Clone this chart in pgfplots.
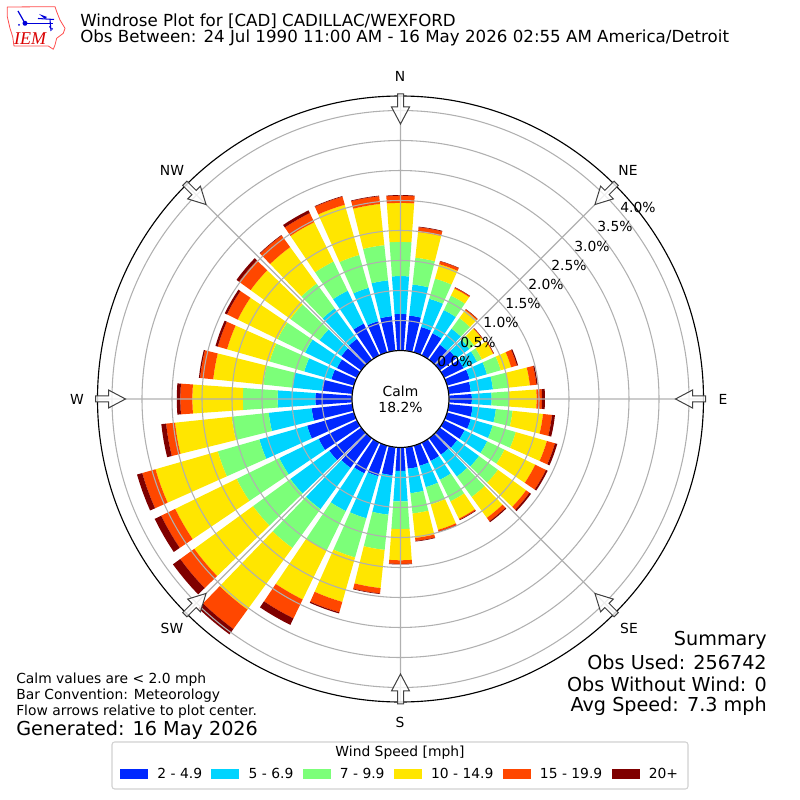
\documentclass[border=0pt]{standalone}
\usepackage{pgfplots}
\usepackage{pgfplotstable}
\usepackage{fontspec}
\usepgfplotslibrary{polar}
\pgfplotsset{compat=1.18}
\setmainfont{DejaVu Sans}
\newfontfamily\logofont{Liberation Serif}
\definecolor{c1}{RGB}{0,40,255}
\definecolor{c2}{RGB}{0,212,255}
\definecolor{c3}{RGB}{124,255,121}
\definecolor{c4}{RGB}{255,230,0}
\definecolor{c5}{RGB}{255,71,0}
\definecolor{c6}{RGB}{127,0,0}
\definecolor{gridc}{RGB}{176,176,176}
% cumulative frequency (%) at the outer edge of each speed band, per direction
\pgfplotstableread{
dir b1 b2 b3 b4 b5 b6
0 .61 1.24 1.81 2.46 2.58 2.59
10 .59 1.11 1.56 1.99 2.07 2.08
20 .44 .93 1.28 1.53 1.58 1.585
30 .41 .84 1.11 1.24 1.26 1.265
40 .31 .64 .86 1.02 1.04 1.045
50 .34 .61 .71 .88 .89 .895
60 .36 .61 .70 .91 .92 .925
70 .39 .69 .93 1.11 1.21 1.23
80 .37 .74 1.0 1.36 1.47 1.49
90 .38 .71 1.0 1.46 1.55 1.60
100 .40 .79 1.07 1.58 1.73 1.78
110 .41 .79 1.19 1.73 1.87 1.91
120 .38 .80 1.12 1.69 1.89 1.92
130 .36 .81 1.20 1.78 1.85 1.88
140 .34 .79 1.21 1.64 1.71 1.73
150 .34 .69 1.09 1.41 1.43 1.44
160 .35 .72 1.02 1.46 1.49 1.50
170 .36 .77 1.11 1.52 1.57 1.58
180 .39 .90 1.36 1.88 1.94 1.95
190 .47 1.13 1.72 2.36 2.45 2.46
200 .53 1.26 1.94 2.71 2.89 2.91
210 .57 1.27 2.0 2.91 3.26 3.38
220 .61 1.46 2.26 3.53 3.93 4.04
230 .66 1.46 2.23 3.44 3.73 3.88
240 .71 1.44 2.23 3.37 3.63 3.75
250 .81 1.64 2.36 3.44 3.67 3.76
260 .68 1.40 2.02 2.97 3.12 3.20
270 .61 1.24 1.82 2.66 2.86 2.92
280 .51 1.00 1.49 2.33 2.55 2.57
290 .39 .86 1.46 2.2 2.36 2.40
300 .37 .96 1.47 2.21 2.41 2.45
310 .41 .86 1.46 2.28 2.52 2.57
320 .43 1.06 1.57 2.32 2.56 2.57
330 .59 1.20 1.74 2.47 2.64 2.69
340 .54 1.12 1.69 2.56 2.70 2.71
350 .58 1.18 1.77 2.46 2.59 2.60
}\windtable
\def\rorigin{0.8083}
\newcommand\wedgeplot[4]{%
  \pgfmathsetmacro\tha{#1-4}\pgfmathsetmacro\thb{#1-2}%
  \pgfmathsetmacro\thc{#1+2}\pgfmathsetmacro\thd{#1+4}%
  \pgfmathsetmacro\ra{#2+\rorigin}\pgfmathsetmacro\rb{#3+\rorigin}%
  \edef\tmp{\noexpand\addplot[fill=#4,draw=none,forget plot] coordinates {(\tha,\ra)(\thb,\ra)(#1,\ra)(\thc,\ra)(\thd,\ra)(\thd,\rb)(\thc,\rb)(#1,\rb)(\thb,\rb)(\tha,\rb)} -- cycle;}%
  \tmp}
\newcommand\flowarrow[1]{% compass bearing
  \begin{scope}[shift={(400.5,399)},rotate=#1]
  \draw[draw=black!75,fill=white,fill opacity=.8,line width=.75pt,line join=miter]
    (0,-305) -- (3,-305) -- (3,-292) -- (9,-292) -- (0,-275) -- (-9,-292) -- (-3,-292) -- (-3,-305) -- cycle;
  \end{scope}}
\begin{document}
\begin{tikzpicture}
\useasboundingbox (0,0) rectangle (600pt,600pt);
\begin{scope}[x=0.75pt,y=-0.75pt,shift={(0,600pt)}]
\draw[draw=black!18,fill=white,rounded corners=2pt,line width=.8pt] (112,742) rectangle (688,789);
\end{scope}
\begin{polaraxis}[
  at={(300.375pt,300.75pt)},anchor=center,
  scale only axis,width=454.5pt,height=454.5pt,
  xmin=0,xmax=360,ymin=0,ymax=5.05,
  xtick={0,45,...,315},xticklabels={},
  ytick={0.8083,1.3083,1.8083,2.3083,2.8083,3.3083,3.8083,4.3083,4.8083},yticklabels={},
  grid=both,grid style={gridc,line width=.8pt},
  major tick length=0pt,
  separate axis lines,
  x axis line style={black,line width=.85pt},
  y axis line style={draw=none},
  axis on top,
  legend columns=6,
  legend cell align=left,
  legend style={draw=none,fill=none,at={(axis description cs:0.5,-0.119)},anchor=center,
    font=\fontsize{10.4pt}{12pt}\selectfont,
    /tikz/every even column/.append style={column sep=5pt},
    /tikz/every odd column/.append style={column sep=4.9pt}},
  legend image code/.code={\fill[#1,draw=none] (0pt,-3.6pt) rectangle (21pt,3.6pt);},
]
\addlegendimage{fill=c1,draw=none}\addlegendentry{2 - 4.9}
\addlegendimage{fill=c2,draw=none}\addlegendentry{5 - 6.9}
\addlegendimage{fill=c3,draw=none}\addlegendentry{7 - 9.9}
\addlegendimage{fill=c4,draw=none}\addlegendentry{10 - 14.9}
\addlegendimage{fill=c5,draw=none}\addlegendentry{15 - 19.9}
\addlegendimage{fill=c6,draw=none}\addlegendentry{20+}
\foreach \row in {0,...,35}{%
  \pgfplotstablegetelem{\row}{dir}\of\windtable\pgfmathsetmacro\th{90-\pgfplotsretval}%
  \pgfplotstablegetelem{\row}{b1}\of\windtable\let\vi\pgfplotsretval
  \pgfplotstablegetelem{\row}{b2}\of\windtable\let\vii\pgfplotsretval
  \pgfplotstablegetelem{\row}{b3}\of\windtable\let\viii\pgfplotsretval
  \pgfplotstablegetelem{\row}{b4}\of\windtable\let\viv\pgfplotsretval
  \pgfplotstablegetelem{\row}{b5}\of\windtable\let\vv\pgfplotsretval
  \pgfplotstablegetelem{\row}{b6}\of\windtable\let\vvi\pgfplotsretval
  \wedgeplot{\th}{0}{\vi}{c1}%
  \wedgeplot{\th}{\vi}{\vii}{c2}%
  \wedgeplot{\th}{\vii}{\viii}{c3}%
  \wedgeplot{\th}{\viii}{\viv}{c4}%
  \wedgeplot{\th}{\viv}{\vv}{c5}%
  \wedgeplot{\th}{\vv}{\vvi}{c6}%
}
\end{polaraxis}
\begin{scope}[x=0.75pt,y=-0.75pt,shift={(0,600pt)}]
\fontsize{10.4pt}{12.5pt}\selectfont
% centre
\draw[fill=white,draw=black,line width=.85pt] (400.5,399) circle[radius=48.5];
\node[align=center,font=\fontsize{10.4pt}{12pt}\selectfont,inner sep=0pt] at (400.5,399) {Calm\\18.2\%};
% arrows
\foreach \b in {0,45,...,315}{\flowarrow{\b}}
% compass
\node at (400,76) {N};\node at (628,170) {NE};\node at (723,399) {E};\node at (629,628) {SE};
\node at (400,722) {S};\node at (172,628) {SW};\node at (77,399) {W};\node at (172,170) {NW};
% radial labels
\node at (455,361) {0.0\%};\node at (478,342) {0.5\%};\node at (501,322) {1.0\%};
\node at (523,303) {1.5\%};\node at (546,284) {2.0\%};\node at (569,265) {2.5\%};
\node at (592,246) {3.0\%};\node at (615,226) {3.5\%};\node at (638,207) {4.0\%};
% title
\node[anchor=west,inner sep=0pt,font=\fontsize{12.5pt}{15pt}\selectfont] at (80,21) {Windrose Plot for [CAD] CADILLAC/WEXFORD};
\node[anchor=west,inner sep=0pt,font=\fontsize{12.5pt}{15pt}\selectfont] at (80,38) {Obs Between: 24 Jul 1990 11:00 AM - 16 May 2026 02:55 AM America/Detroit};
% notes
\node[anchor=west,inner sep=0pt] at (16,680) {Calm values are < 2.0 mph};
\node[anchor=west,inner sep=0pt] at (16,696) {Bar Convention: Meteorology};
\node[anchor=west,inner sep=0pt] at (16,712) {Flow arrows relative to plot center.};
\node[anchor=west,inner sep=0pt,font=\fontsize{14.4pt}{17pt}\selectfont] at (16,730) {Generated: 16 May 2026};
\foreach \t/\y in {Summary/640,Obs Used: 256742/662,Obs Without Wind: 0/684,Avg Speed: 7.3 mph/706}
  \node[anchor=east,inner sep=0pt,font=\fontsize{14.4pt}{17pt}\selectfont] at (767,\y) {\t};
% legend title
\node[inner sep=0pt] at (400,753) {Wind Speed [mph]};
% logo
\draw[red!70!white,line width=.6pt,line join=round] (7.3,7) -- (55,6.7) -- (56.7,11.7) -- (60,20) -- (65,28.3) -- (63.3,33.3) -- (56.7,38.3) -- (55,45) -- (53.3,49.3) -- (48.3,46) -- (14,46) -- (12.7,36.7) -- (10,28.3) -- (7.3,16.7) -- cycle;
\draw[blue!85!black,line width=1.1pt] (25,23.3) -- (53,23.3);
\fill[blue!85!black] (25,23.3) circle[radius=2.5];
\draw[blue!85!black,line width=.9pt] (25,23.3) -- (18,11);
\draw[blue!85!black,line width=.8pt] (38,18.5) -- (54,19.5);
\fill[blue!85!black] (39,14) -- (47,17) -- (45,19) -- cycle;
\draw[blue!85!black,line width=.8pt] (50,19.5) -- (51,31);
\fill[blue!85!black] (19,25) circle[radius=1];
\fill[blue!85!black] (50,27) circle[radius=1];\fill[blue!85!black] (52,29) circle[radius=1];
\node[inner sep=0pt,text=red!85!black,font=\logofont\itshape\fontsize{13.5pt}{14pt}\selectfont] at (30,38.3) {IEM};
\end{scope}
\end{tikzpicture}
\end{document}
